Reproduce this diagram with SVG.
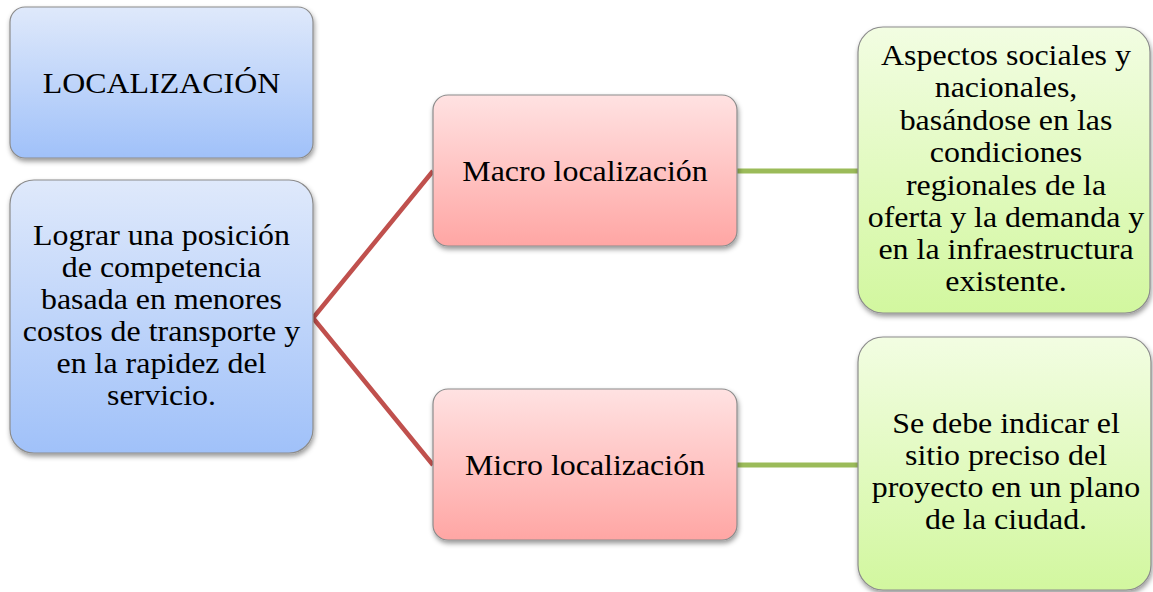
<svg xmlns="http://www.w3.org/2000/svg" width="1153" height="592" viewBox="0 0 1153 592">
<defs>
<linearGradient id="gBlue" x1="0" y1="0" x2="0" y2="1"><stop offset="0" stop-color="#dfe9fb"/><stop offset="1" stop-color="#a0c1f9"/></linearGradient>
<linearGradient id="gRed" x1="0" y1="0" x2="0" y2="1"><stop offset="0" stop-color="#ffe2e2"/><stop offset="1" stop-color="#ffa6a4"/></linearGradient>
<linearGradient id="gGreen" x1="0" y1="0" x2="0" y2="1"><stop offset="0" stop-color="#f2fde2"/><stop offset="1" stop-color="#d2f79f"/></linearGradient>
<filter id="sh" x="-10%" y="-10%" width="120%" height="125%"><feDropShadow dx="1" dy="3" stdDeviation="2.5" flood-color="#000" flood-opacity="0.4"/></filter>
</defs>
<style>
.box{stroke:#8c8c8c;stroke-width:1.2;filter:url(#sh)}
.t{font-family:"Liberation Serif","Times New Roman",serif;font-size:28.5px;fill:#000;text-anchor:middle}
.red{stroke:#c0504d;stroke-width:4.5;fill:none}
.grn{stroke:#9bbb59;stroke-width:5;fill:none}
</style>
<rect width="1153" height="592" fill="#fff"/>
<g id="connectors">
<polyline class="red" points="433,171 313,318 433,465"/>
<line class="grn" x1="737" y1="171" x2="858" y2="171"/>
<line class="grn" x1="737" y1="465" x2="858" y2="465"/>
</g>
<g id="n-localizacion">
<rect class="box" x="10" y="7" width="303" height="151" rx="15" fill="url(#gBlue)"/>
<g transform="translate(161.5 0) scale(1.12 1)">
<text class="t" x="0" y="93">LOCALIZACIÓN</text>
</g>
</g>
<g id="n-lograr">
<rect class="box" x="10" y="180" width="303" height="273" rx="24" fill="url(#gBlue)"/>
<g transform="translate(161.5 0) scale(1.12 1)">
<text class="t" x="0" y="245">Lograr una posición</text>
<text class="t" x="0" y="277">de competencia</text>
<text class="t" x="0" y="309">basada en menores</text>
<text class="t" x="0" y="341">costos de transporte y</text>
<text class="t" x="0" y="373">en la rapidez del</text>
<text class="t" x="0" y="405">servicio.</text>
</g>
</g>
<g id="n-macro">
<rect class="box" x="433" y="95" width="304" height="151" rx="15" fill="url(#gRed)"/>
<g transform="translate(585 0) scale(1.12 1)">
<text class="t" x="0" y="181">Macro localización</text>
</g>
</g>
<g id="n-micro">
<rect class="box" x="433" y="389" width="304" height="151" rx="15" fill="url(#gRed)"/>
<g transform="translate(585 0) scale(1.12 1)">
<text class="t" x="0" y="475">Micro localización</text>
</g>
</g>
<g id="n-aspectos">
<rect class="box" x="858" y="27" width="292" height="286" rx="25" fill="url(#gGreen)"/>
<g transform="translate(1006 0) scale(1.12 1)">
<text class="t" x="0" y="65">Aspectos sociales y</text>
<text class="t" x="0" y="97">nacionales,</text>
<text class="t" x="0" y="130">basándose en las</text>
<text class="t" x="0" y="162">condiciones</text>
<text class="t" x="0" y="195">regionales de la</text>
<text class="t" x="0" y="227">oferta y la demanda y</text>
<text class="t" x="0" y="259">en la infraestructura</text>
<text class="t" x="0" y="291">existente.</text>
</g>
</g>
<g id="n-sitio">
<rect class="box" x="858" y="337" width="293" height="253" rx="25" fill="url(#gGreen)"/>
<g transform="translate(1006 0) scale(1.12 1)">
<text class="t" x="0" y="433">Se debe indicar el</text>
<text class="t" x="0" y="465">sitio preciso del</text>
<text class="t" x="0" y="497">proyecto en un plano</text>
<text class="t" x="0" y="529">de la ciudad.</text>
</g>
</g>
</svg>
